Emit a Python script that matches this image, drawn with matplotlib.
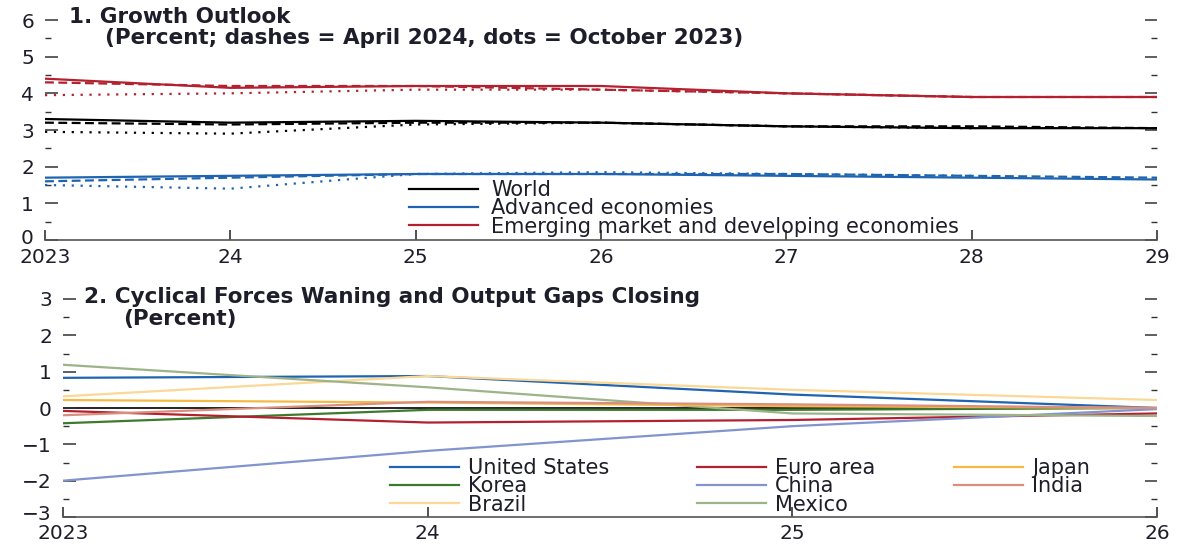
import numpy as np
import matplotlib
matplotlib.use('Agg')
import matplotlib.pyplot as plt
import matplotlib.transforms as mtransforms
from matplotlib.legend import Legend

plt.rcParams['font.family'] = ['DejaVu Sans']

# panel 1: growth outlook
years_top = [2023, 2024, 2025, 2026, 2027, 2028, 2029]
world_jul = [3.3, 3.2, 3.25, 3.2, 3.1, 3.05, 3.05]
world_apr = [3.2, 3.15, 3.2, 3.2, 3.1, 3.1, 3.05]
world_oct = [2.95, 2.9, 3.15, 3.2, 3.1, 3.05]
adv_jul = [1.7, 1.75, 1.8, 1.8, 1.75, 1.7, 1.65]
adv_apr = [1.6, 1.7, 1.8, 1.8, 1.8, 1.75, 1.7]
adv_oct = [1.5, 1.4, 1.8, 1.85, 1.8, 1.75]
emde_jul = [4.4, 4.15, 4.2, 4.2, 4.0, 3.9, 3.9]
emde_apr = [4.3, 4.2, 4.2, 4.1, 4.0, 3.9, 3.9]
emde_oct = [3.95, 4.0, 4.1, 4.1, 4.0, 3.9]
top_labels = ['World', 'Advanced economies', 'Emerging market and developing economies']
top_yticks = [0, 1, 2, 3, 4, 5, 6]

# panel 2: output gaps
years_bot = [2023, 2024, 2025, 2026]
gap_cols = [['United States', 'Korea', 'Brazil'],
            ['Euro area', 'China', 'Mexico'],
            ['Japan', 'India']]
gaps = {
    'United States': [0.83, 0.88, 0.37, 0.0],
    'Korea': [-0.42, -0.05, -0.05, 0.0],
    'Brazil': [0.32, 0.88, 0.5, 0.22],
    'Euro area': [-0.08, -0.4, -0.33, -0.15],
    'China': [-2.0, -1.18, -0.5, -0.03],
    'Mexico': [1.19, 0.57, -0.15, -0.22],
    'Japan': [0.22, 0.15, 0.05, 0.0],
    'India': [-0.2, 0.17, 0.1, 0.0],
}
gap_colors = {
    'United States': '#1f64b0',
    'Korea': '#3e7a2e',
    'Brazil': '#fbd895',
    'Euro area': '#b3202f',
    'China': '#8294cf',
    'Mexico': '#9db38a',
    'Japan': '#f5ba45',
    'India': '#d98e80',
}
bot_yticks = [-3, -2, -1, 0, 1, 2, 3]

txt = '#1e1e2a'
W, H = 1177, 544
fs_tick = 14.5
fs_leg = 15
fs_title = 15.5

fig = plt.figure(figsize=(W / 100, H / 100), dpi=100)

def px_axes(x0, y0, x1, y1):
    # pixel box (from top-left) -> figure axes
    return fig.add_axes([x0 / W, 1 - y1 / H, (x1 - x0) / W, (y1 - y0) / H])

def fx(x, y):
    return (x / W, 1 - y / H)

ax1 = px_axes(45, 20, 1157, 240)
ax2 = px_axes(63, 299, 1157, 517)

def style(ax, yticks, xmin, xmax, xlabels, xpad):
    ax.set_ylim(yticks[0], yticks[-1])
    ax.set_xlim(xmin, xmax)
    for s in ['top', 'left', 'right']:
        ax.spines[s].set_visible(False)
    ax.spines['bottom'].set_color('#555555')
    ax.spines['bottom'].set_linewidth(1.2)
    ax.set_yticks(yticks)
    ax.set_yticks([v + 0.5 for v in yticks[:-1]], minor=True)
    ax.tick_params(axis='y', which='major', direction='in', length=9, width=1.1,
                   color='#333333', left=True, right=True, labelsize=fs_tick,
                   labelcolor=txt, pad=8)
    ax.tick_params(axis='y', which='minor', direction='in', length=4.5, width=1.0,
                   color='#333333', left=True, right=True)
    ax.set_xticks(range(xmin, xmax + 1))
    ax.set_xticklabels(xlabels)
    ax.tick_params(axis='x', direction='in', length=7, width=1.2, color='#333333',
                   labelsize=fs_tick, labelcolor=txt, pad=xpad)
    # lift the lowest y label a little so it clears the year label below
    lab = ax.yaxis.get_major_ticks()[0].label1
    lab.set_transform(lab.get_transform() +
                      mtransforms.ScaledTranslation(0, 4 / 100, fig.dpi_scale_trans))

def add_legend(ax, handles, labels, x, y, pad):
    leg = Legend(ax, handles, labels, loc='upper left', bbox_to_anchor=fx(x, y),
                 bbox_transform=fig.transFigure, frameon=False, fontsize=fs_leg,
                 handlelength=3.3, handletextpad=pad, labelspacing=-0.08,
                 borderpad=0, borderaxespad=0, labelcolor=txt)
    ax.add_artist(leg)
    return leg

# top panel
style(ax1, top_yticks, 2023, 2029, ['2023', '24', '25', '26', '27', '28', '29'], 6)
series = [
    (world_jul, world_apr, world_oct, '#000000'),
    (adv_jul, adv_apr, adv_oct, '#1f64b0'),
    (emde_jul, emde_apr, emde_oct, '#b3202f'),
]
handles = []
for jul, apr, octo, c in series:
    h, = ax1.plot(years_top, jul, color=c, lw=1.6)
    ax1.plot(years_top, apr, color=c, lw=1.6, ls=(0, (4, 2)))
    ax1.plot(years_top[:len(octo)], octo, color=c, lw=1.6, ls=(0, (1, 3)))
    handles.append(h)
add_legend(ax1, handles, top_labels, 409, 180, 0.65)
fig.text(*fx(69, 17), '1. Growth Outlook', fontsize=fs_title, fontweight='bold',
         color=txt, va='center')
fig.text(*fx(105, 38.5), '(Percent; dashes = April 2024, dots = October 2023)',
         fontsize=fs_title, fontweight='bold', color=txt, va='center')

# bottom panel
style(ax2, bot_yticks, 2023, 2026, ['2023', '24', '25', '26'], 5)
ax2.axhline(0, color='black', lw=1.2, zorder=1)
lines = {}
for col in gap_cols:
    for name in col:
        h, = ax2.plot(years_bot, gaps[name], color=gap_colors[name], lw=1.6, zorder=2)
        lines[name] = h
for col, x in zip(gap_cols, [390, 697, 954]):
    add_legend(ax2, [lines[n] for n in col], col, x, 458, 0.45)
fig.text(*fx(84, 297), '2. Cyclical Forces Waning and Output Gaps Closing',
         fontsize=fs_title, fontweight='bold', color=txt, va='center')
fig.text(*fx(123, 318.5), '(Percent)', fontsize=fs_title, fontweight='bold',
         color=txt, va='center')

fig.savefig('out.png', dpi=100)
